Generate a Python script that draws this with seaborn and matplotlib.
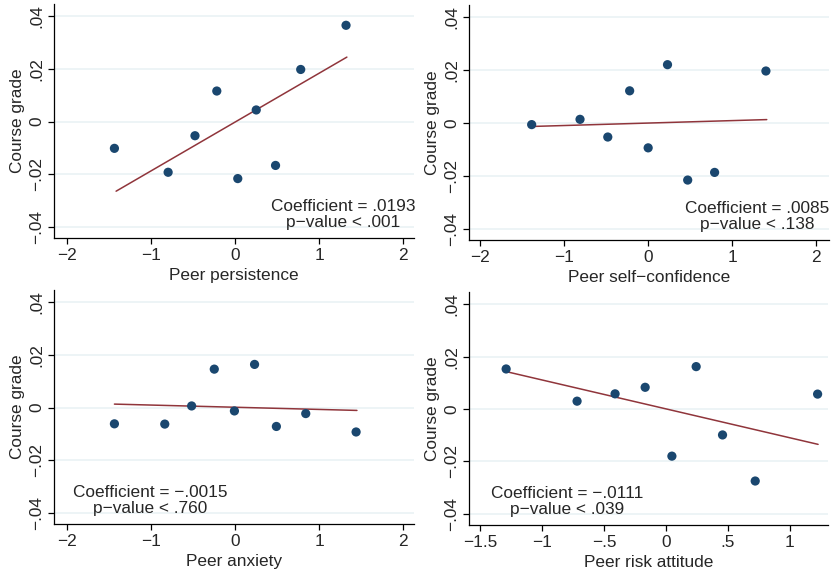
import matplotlib
matplotlib.use("Agg")
import matplotlib.pyplot as plt
import seaborn as sns
import pandas as pd

# binned means (x = peer trait, y = course grade)
persist_x = [-1.44, -0.80, -0.48, -0.22, 0.03, 0.25, 0.48, 0.78, 1.32]
persist_y = [-0.0102, -0.0193, -0.0054, 0.0116, -0.0217, 0.0044, -0.0167, 0.0198, 0.0366]
persist_fit_x = [-1.42, 1.33]
persist_fit_y = [-0.0265, 0.0245]

conf_x = [-1.385, -0.81, -0.48, -0.22, 0.0, 0.23, 0.47, 0.79, 1.40]
conf_y = [-0.0006, 0.0014, -0.0053, 0.0122, -0.0094, 0.0221, -0.0216, -0.0187, 0.0197]
conf_fit_x = [-1.38, 1.41]
conf_fit_y = [-0.0013, 0.0013]

anx_x = [-1.44, -0.84, -0.52, -0.25, -0.01, 0.23, 0.49, 0.84, 1.44]
anx_y = [-0.0062, -0.0063, 0.0006, 0.0146, -0.0013, 0.0164, -0.0072, -0.0023, -0.0093]
anx_fit_x = [-1.44, 1.45]
anx_fit_y = [0.0013, -0.0011]

risk_x = [-1.29, -0.717, -0.41, -0.167, 0.049, 0.245, 0.458, 0.722, 1.226]
risk_y = [0.0153, 0.0030, 0.0058, 0.0083, -0.0180, 0.0162, -0.0099, -0.0275, 0.0057]
risk_fit_x = [-1.29, 1.23]
risk_fit_y = [0.0143, -0.0135]

x_labels = ["Peer persistence", "Peer self\u2212confidence", "Peer anxiety", "Peer risk attitude"]
coef_text = ["Coefficient = .0193", "Coefficient = .0085",
             "Coefficient = \u2212.0015", "Coefficient = \u2212.0111"]
pval_text = ["p\u2212value < .001", "p\u2212value < .138", "p\u2212value < .760", "p\u2212value < .039"]

y_ticks = [-0.04, -0.02, 0, 0.02, 0.04]
y_ticklabels = ["\u2212.04", "\u2212.02", "0", ".02", ".04"]
x_ticks_std = [-2, -1, 0, 1, 2]
x_ticklabels_std = ["\u22122", "\u22121", "0", "1", "2"]
x_ticks_risk = [-1.5, -1, -0.5, 0, 0.5, 1]
x_ticklabels_risk = ["\u22121.5", "\u22121", "\u2212.5", "0", ".5", "1"]

sns.set_style("white")
plt.rcParams['font.family'] = ['Liberation Sans', 'DejaVu Sans']

navy = "#1a476f"
maroon = "#90353b"
grid_col = "#e8f1f4"
fs = 12.4

W, H = 833, 573
fig = plt.figure(figsize=(W / 100, H / 100), dpi=100)

# panel boxes in pixels: left, top, right, bottom
boxes = [(54, 4, 414, 238), (469, 5, 829, 240), (54, 290, 414, 524), (469, 292, 828, 525)]
panels = [
    (persist_x, persist_y, persist_fit_x, persist_fit_y, (-2.16, 2.13), x_ticks_std, x_ticklabels_std, (1.29, -0.0354)),
    (conf_x, conf_y, conf_fit_x, conf_fit_y, (-2.13, 2.15), x_ticks_std, x_ticklabels_std, (1.30, -0.0354)),
    (anx_x, anx_y, anx_fit_x, anx_fit_y, (-2.16, 2.13), x_ticks_std, x_ticklabels_std, (-1.01, -0.0354)),
    (risk_x, risk_y, risk_fit_x, risk_fit_y, (-1.59, 1.31), x_ticks_risk, x_ticklabels_risk, (-0.80, -0.0354)),
]

for i, (box, p) in enumerate(zip(boxes, panels)):
    l, t, r, b = box
    ax = fig.add_axes([l / W, 1 - b / H, (r - l) / W, (b - t) / H])
    xs, ys, fx, fy, xlim, xt, xtl, txt_pos = p
    df = pd.DataFrame({"x": xs, "y": ys})
    fit = pd.DataFrame({"x": fx, "y": fy})

    for yv in y_ticks:
        ax.axhline(yv, color=grid_col, lw=1.1, zorder=0)
    sns.lineplot(data=fit, x="x", y="y", ax=ax, color=maroon, lw=1.1, zorder=2)
    sns.scatterplot(data=df, x="x", y="y", ax=ax, color=navy, s=44, edgecolor="none", zorder=3)

    ax.set_xlim(*xlim)
    ax.set_ylim(-0.0443, 0.0447)
    ax.set_xticks(xt)
    ax.set_xticklabels(xtl, fontsize=fs)
    ax.set_yticks(y_ticks)
    ax.set_yticklabels(y_ticklabels, fontsize=fs, rotation=90, va="center")
    ax.tick_params(axis="both", direction="out", length=4, width=0.9, color="black", pad=3, bottom=True, left=True)
    ax.set_xlabel(x_labels[i], fontsize=fs, labelpad=4)
    ax.set_ylabel("Course grade", fontsize=fs, labelpad=3)
    for s in ["top", "right"]:
        ax.spines[s].set_visible(False)
    for s in ["left", "bottom"]:
        ax.spines[s].set_color("black")
        ax.spines[s].set_linewidth(0.9)
    ax.text(txt_pos[0], txt_pos[1], coef_text[i] + "\n" + pval_text[i], ha="center", va="center",
            fontsize=fs, linespacing=1.05)

fig.savefig("out.png", dpi=100)
